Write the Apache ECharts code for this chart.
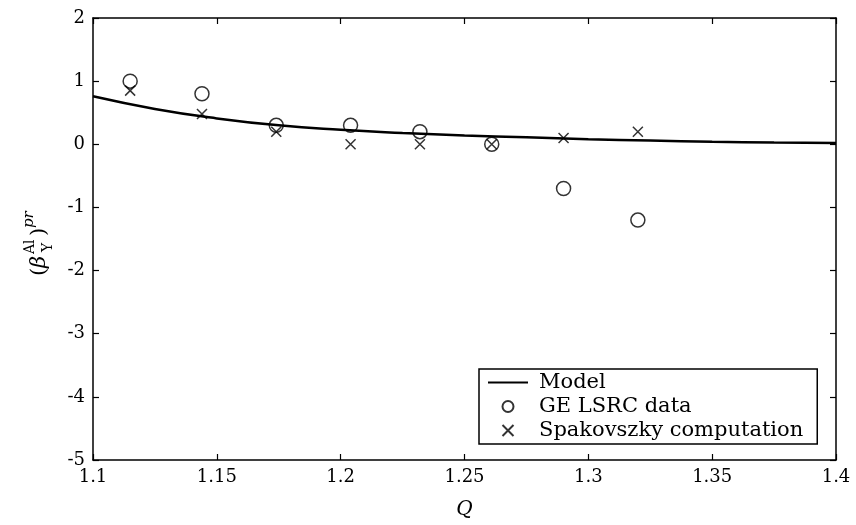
<!DOCTYPE html>
<html>
<head>
<meta charset="utf-8">
<script src="https://cdn.jsdelivr.net/npm/echarts@6/dist/echarts.min.js"></script>
<style>
  html, body { margin: 0; padding: 0; background: #fff; }
  #chart { width: 856px; height: 525px; }
</style>
</head>
<body>
<div id="chart"></div>
<script>
// Q positions of the measured / computed points
const qPoints = [1.115, 1.144, 1.174, 1.204, 1.232, 1.261, 1.290, 1.320];
const geLsrc = [1.0, 0.8, 0.3, 0.3, 0.2, 0.0, -0.7, -1.2];
const spakovszky = [0.85, 0.48, 0.2, 0.0, 0.0, 0.0, 0.1, 0.2];

// model curve
const modelQ = [1.100, 1.125, 1.150, 1.175, 1.200, 1.225, 1.250, 1.275, 1.300, 1.325, 1.350, 1.375, 1.400];
const modelY = [0.76, 0.56, 0.41, 0.30, 0.23, 0.18, 0.14, 0.11, 0.08, 0.06, 0.04, 0.03, 0.02];

const xTicks = [1.1, 1.15, 1.2, 1.25, 1.3, 1.35, 1.4];
const yTicks = [-5, -4, -3, -2, -1, 0, 1, 2];

const serif = 'DejaVu Serif';
const zip = (a, b) => a.map((v, i) => [v, b[i]]);

const chart = echarts.init(document.getElementById('chart'));

const axisCommon = {
    type: 'value',
    axisLine: { show: true, onZero: false, lineStyle: { color: '#000', width: 1.5 } },
    axisTick: { show: true, inside: true, length: 6, lineStyle: { color: '#000', width: 1.2 } },
    splitLine: { show: false }
};

const option = {
    backgroundColor: '#fff',
    animation: false,
    grid: { left: 93, right: 20, top: 18, bottom: 64 },
    xAxis: [
        Object.assign({}, axisCommon, {
            position: 'bottom', min: 1.1, max: 1.4, interval: 0.05,
            axisLabel: {
                color: '#000', fontFamily: serif, fontSize: 18, margin: 8,
                formatter: v => String(xTicks.find(t => Math.abs(t - v) < 1e-6) ?? v)
            },
            name: 'Q', nameLocation: 'middle', nameGap: 40,
            nameTextStyle: { color: '#000', fontFamily: serif, fontSize: 20, fontStyle: 'italic' }
        }),
        Object.assign({}, axisCommon, {
            position: 'top', min: 1.1, max: 1.4, interval: 0.05,
            axisLabel: { show: false }
        })
    ],
    yAxis: [
        Object.assign({}, axisCommon, {
            position: 'left', min: -5, max: 2, interval: 1,
            axisLabel: {
                color: '#000', fontFamily: serif, fontSize: 18, margin: 8,
                formatter: v => String(yTicks.find(t => t === v) ?? v)
            }
        }),
        Object.assign({}, axisCommon, {
            position: 'right', min: -5, max: 2, interval: 1,
            axisLabel: { show: false }
        })
    ],
    legend: {
        left: 479, top: 369,
        orient: 'vertical',
        backgroundColor: '#fff',
        borderColor: '#000', borderWidth: 1.5, borderRadius: 0,
        padding: [3, 14, 3, 9],
        itemGap: 3,
        itemWidth: 40, itemHeight: 11,
        textStyle: { color: '#000', fontFamily: serif, fontSize: 21, padding: [0, 0, 0, 6] },
        data: [
            { name: 'Model', icon: 'path://M0,0L40,0L40,2.2L0,2.2Z' },
            { name: 'GE LSRC data' },
            { name: 'Spakovszky computation' }
        ]
    },
    series: [
        {
            name: 'Model', type: 'line', smooth: true, symbol: 'none',
            lineStyle: { color: '#000', width: 2.5 },
            itemStyle: { color: '#000' },
            data: zip(modelQ, modelY), z: 2
        },
        {
            name: 'GE LSRC data', type: 'scatter', symbol: 'circle', symbolSize: 14,
            itemStyle: { color: 'transparent', borderColor: '#000', borderWidth: 1.5 },
            data: zip(qPoints, geLsrc), z: 3
        },
        {
            name: 'Spakovszky computation', type: 'scatter',
            symbol: 'path://M0,0L10,10M10,0L0,10', symbolSize: 10,
            itemStyle: { color: 'transparent', borderColor: '#000', borderWidth: 1.5 },
            data: zip(qPoints, spakovszky), z: 4
        }
    ],
    graphic: [{
        type: 'group',
        x: 40, y: 276,
        rotation: Math.PI / 2,
        children: [
            { type: 'text', x: 0, y: 0, style: { text: '(', font: '21px "DejaVu Serif"', fill: '#000', textVerticalAlign: 'middle' } },
            { type: 'text', x: 8, y: 0, style: { text: 'β', font: 'italic 21px "DejaVu Serif"', fill: '#000', textVerticalAlign: 'middle' } },
            { type: 'text', x: 22, y: -10, style: { text: 'Al', font: '14px "DejaVu Serif"', fill: '#000', textVerticalAlign: 'middle' } },
            { type: 'text', x: 24, y: 8, style: { text: 'Y', font: '14px "DejaVu Serif"', fill: '#000', textVerticalAlign: 'middle' } },
            { type: 'text', x: 40, y: 0, style: { text: ')', font: '21px "DejaVu Serif"', fill: '#000', textVerticalAlign: 'middle' } },
            { type: 'text', x: 48, y: -11, style: { text: 'pr', font: 'italic 15px "DejaVu Serif"', fill: '#000', textVerticalAlign: 'middle' } }
        ]
    }]
};

chart.setOption(option);
window.addEventListener('resize', function () {
    chart.resize();
});
</script>
</body>
</html>
